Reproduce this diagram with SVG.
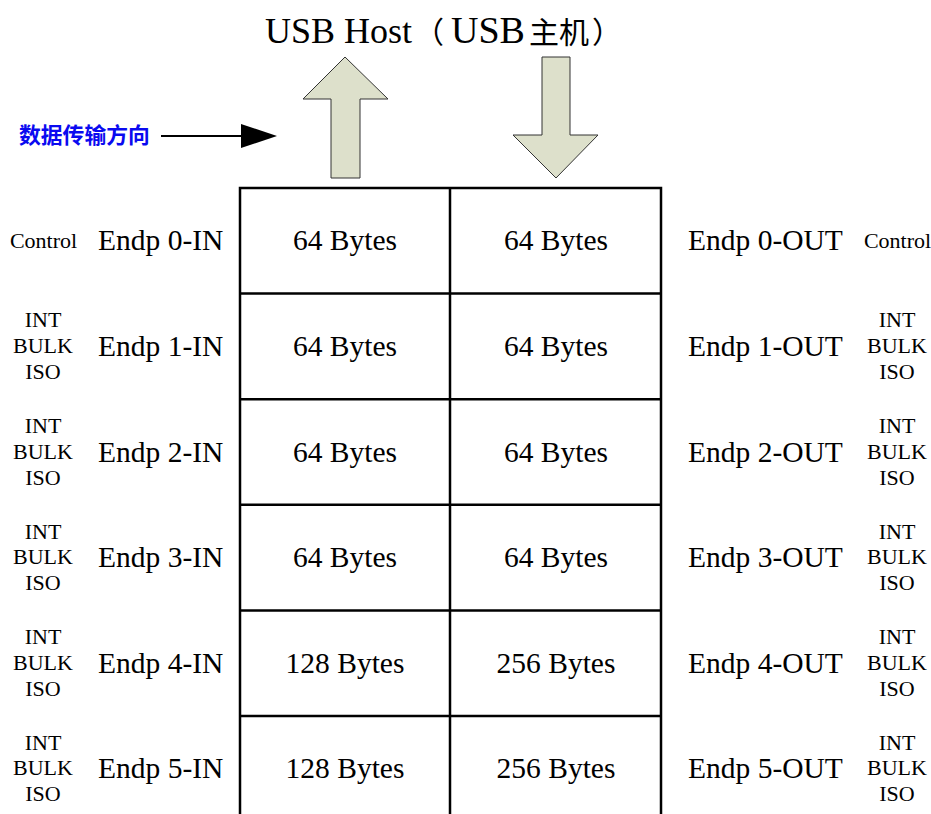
<svg xmlns="http://www.w3.org/2000/svg" width="931" height="814" viewBox="0 0 931 814">
<style>
.serif{font-family:"Liberation Serif","Noto Sans CJK SC",serif;fill:#000}
.cjk{font-family:"Noto Sans CJK SC",sans-serif}
.big{font-size:29.5px}
.small{font-size:22px;text-anchor:middle}
.mid{text-anchor:middle}
.cell{fill:none;stroke:#000;stroke-width:2.5}
.fat{fill:#dde0cb;stroke:#333;stroke-width:1}
</style>
<rect width="931" height="814" fill="#fff"/>
<g id="title">
<text class="serif" y="43" font-size="36"><tspan x="265">USB Host</tspan><tspan class="cjk" x="414" font-size="30">（</tspan><tspan x="451" font-size="38">USB</tspan><tspan class="cjk" x="529" font-size="30">主机</tspan><tspan class="cjk" x="592" font-size="30">）</tspan></text>
</g>
<g id="up-arrow">
<polygon class="fat" points="345,57 388,99 360,99 360,178 331,178 331,99 303,99"/>
</g>
<g id="down-arrow">
<polygon class="fat" points="542,57 570,57 570,135 598,135 556,178 513,135 542,135"/>
</g>
<g id="direction-label">
<text x="19" y="143" font-family="Noto Sans CJK SC, sans-serif" font-weight="bold" font-size="21.8" fill="#0a0af0">数据传输方向</text>
</g>
<g id="connectors">
<line x1="161" y1="136" x2="243" y2="136" stroke="#000" stroke-width="2.2"/>
<polygon points="241,124 277,136 241,148" fill="#000"/>
</g>
<g id="table">
<rect class="cell" x="240" y="188" width="421" height="640"/>
<line class="cell" x1="450" y1="188" x2="450" y2="814"/>
<line class="cell" x1="240" y1="293.6" x2="661" y2="293.6"/>
<line class="cell" x1="240" y1="399.2" x2="661" y2="399.2"/>
<line class="cell" x1="240" y1="504.8" x2="661" y2="504.8"/>
<line class="cell" x1="240" y1="610.4" x2="661" y2="610.4"/>
<line class="cell" x1="240" y1="716" x2="661" y2="716"/>
</g>
<g id="row0">
<text class="serif small" x="43.5" y="248">Control</text>
<text class="serif big" x="98" y="250.3">Endp 0-IN</text>
<text class="serif big mid" x="345" y="250.3">64 Bytes</text>
<text class="serif big mid" x="556" y="250.3">64 Bytes</text>
<text class="serif big" x="688" y="250.3">Endp 0-OUT</text>
<text class="serif small" x="897.5" y="248">Control</text>
</g>
<g id="row1">
<text class="serif small" x="43" y="327.4">INT</text>
<text class="serif small" x="43" y="352.9">BULK</text>
<text class="serif small" x="43" y="378.9">ISO</text>
<text class="serif big" x="98" y="355.9">Endp 1-IN</text>
<text class="serif big mid" x="345" y="355.9">64 Bytes</text>
<text class="serif big mid" x="556" y="355.9">64 Bytes</text>
<text class="serif big" x="688" y="355.9">Endp 1-OUT</text>
<text class="serif small" x="897" y="327.4">INT</text>
<text class="serif small" x="897" y="352.9">BULK</text>
<text class="serif small" x="897" y="378.9">ISO</text>
</g>
<g id="row2">
<text class="serif small" x="43" y="433">INT</text>
<text class="serif small" x="43" y="458.5">BULK</text>
<text class="serif small" x="43" y="484.5">ISO</text>
<text class="serif big" x="98" y="461.5">Endp 2-IN</text>
<text class="serif big mid" x="345" y="461.5">64 Bytes</text>
<text class="serif big mid" x="556" y="461.5">64 Bytes</text>
<text class="serif big" x="688" y="461.5">Endp 2-OUT</text>
<text class="serif small" x="897" y="433">INT</text>
<text class="serif small" x="897" y="458.5">BULK</text>
<text class="serif small" x="897" y="484.5">ISO</text>
</g>
<g id="row3">
<text class="serif small" x="43" y="538.6">INT</text>
<text class="serif small" x="43" y="564.1">BULK</text>
<text class="serif small" x="43" y="590.1">ISO</text>
<text class="serif big" x="98" y="567.1">Endp 3-IN</text>
<text class="serif big mid" x="345" y="567.1">64 Bytes</text>
<text class="serif big mid" x="556" y="567.1">64 Bytes</text>
<text class="serif big" x="688" y="567.1">Endp 3-OUT</text>
<text class="serif small" x="897" y="538.6">INT</text>
<text class="serif small" x="897" y="564.1">BULK</text>
<text class="serif small" x="897" y="590.1">ISO</text>
</g>
<g id="row4">
<text class="serif small" x="43" y="644.2">INT</text>
<text class="serif small" x="43" y="669.7">BULK</text>
<text class="serif small" x="43" y="695.7">ISO</text>
<text class="serif big" x="98" y="672.7">Endp 4-IN</text>
<text class="serif big mid" x="345" y="672.7">128 Bytes</text>
<text class="serif big mid" x="556" y="672.7">256 Bytes</text>
<text class="serif big" x="688" y="672.7">Endp 4-OUT</text>
<text class="serif small" x="897" y="644.2">INT</text>
<text class="serif small" x="897" y="669.7">BULK</text>
<text class="serif small" x="897" y="695.7">ISO</text>
</g>
<g id="row5">
<text class="serif small" x="43" y="749.8">INT</text>
<text class="serif small" x="43" y="775.3">BULK</text>
<text class="serif small" x="43" y="801.3">ISO</text>
<text class="serif big" x="98" y="778.3">Endp 5-IN</text>
<text class="serif big mid" x="345" y="778.3">128 Bytes</text>
<text class="serif big mid" x="556" y="778.3">256 Bytes</text>
<text class="serif big" x="688" y="778.3">Endp 5-OUT</text>
<text class="serif small" x="897" y="749.8">INT</text>
<text class="serif small" x="897" y="775.3">BULK</text>
<text class="serif small" x="897" y="801.3">ISO</text>
</g>
</svg>
